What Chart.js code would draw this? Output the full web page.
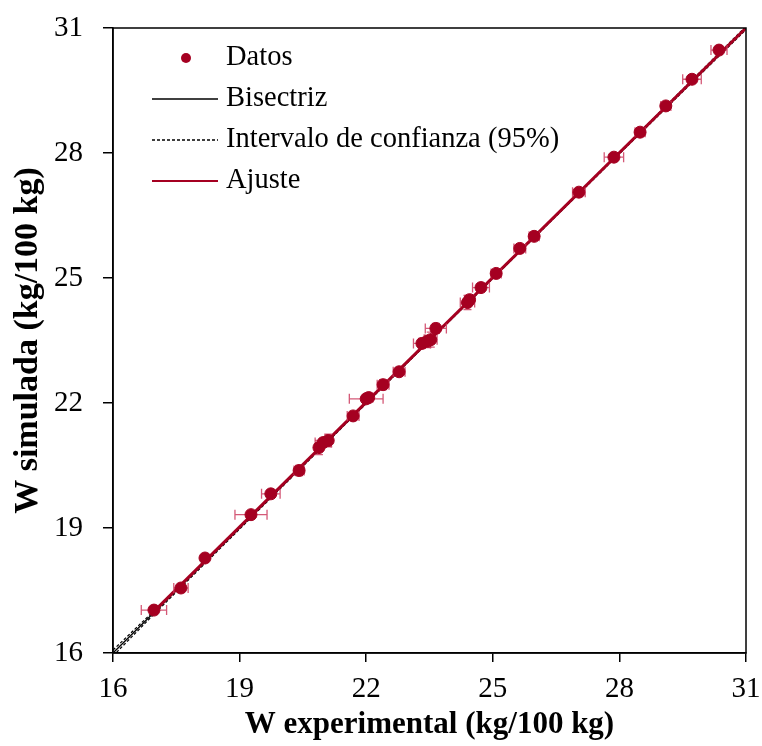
<!DOCTYPE html>
<html>
<head>
<meta charset="utf-8">
<script src="https://cdn.jsdelivr.net/npm/chart.js@4.4.1/dist/chart.umd.min.js"></script>
<style>
  html, body { margin: 0; padding: 0; background: #fff; }
  #wrap { width: 762px; height: 746px; }
</style>
</head>
<body>
<div id="wrap"><canvas id="chart" width="762" height="746"></canvas></div>
<script>
// experimental vs simulated W (kg/100 kg)
const wExp = [16.97, 17.61, 18.18, 19.27, 19.74, 20.41, 20.88, 20.98, 21.10, 21.69, 22.00, 22.06, 22.40, 22.78,
              23.32, 23.45, 23.53, 23.65, 24.40, 24.45, 24.72, 25.08, 25.64, 25.98, 27.04, 27.87, 28.49, 29.10, 29.72, 30.36];
const wSim = [17.03, 17.56, 18.28, 19.32, 19.82, 20.38, 20.93, 21.05, 21.10, 21.69, 22.10, 22.13, 22.44, 22.75,
              23.43, 23.48, 23.52, 23.79, 24.41, 24.48, 24.77, 25.11, 25.71, 26.00, 27.06, 27.90, 28.50, 29.13, 29.77, 30.47];
const errX = [0.30, 0.17, 0.04, 0.38, 0.22, 0.12, 0.06, 0.19, 0.05, 0.14, 0.40, 0.10, 0.14, 0.14,
              0.20, 0.10, 0.15, 0.25, 0.17, 0.10, 0.20, 0.12, 0.14, 0.12, 0.15, 0.23, 0.12, 0.12, 0.22, 0.19];
const errY = [0.05, 0.06, 0.04, 0.05, 0.05, 0.12, 0.17, 0.10, 0.15, 0.08, 0.10, 0.08, 0.12, 0.08,
              0.12, 0.15, 0.18, 0.12, 0.17, 0.10, 0.10, 0.06, 0.08, 0.06, 0.08, 0.06, 0.06, 0.06, 0.08, 0.06];

const bisX = [16, 31];
const bisY = [16, 31];
const ciX = [16, 17, 20, 24, 28, 31];
const ciUpper = [16.07, 17.04, 20.02, 24.01, 28.02, 31.04];
const ciLower = [15.93, 16.96, 19.98, 23.99, 27.98, 30.96];
const fitX = [16.97, 31];
const fitY = [17.0, 31.0];

const axisTicks = [16, 19, 22, 25, 28, 31];
const legendLabels = ['Datos', 'Bisectriz', 'Intervalo de confianza (95%)', 'Ajuste'];

const RED = '#a50021';
const ERR = 'rgba(205, 60, 95, 0.85)';
const FONT = "'Liberation Serif', 'Times New Roman', serif";

const pts = (xs, ys) => xs.map((x, i) => ({ x: x, y: ys[i] }));

const errorBars = {
  id: 'errorBars',
  beforeDatasetDraw(chart, args) {
    if (args.index !== 0) return;
    const ctx = chart.ctx, sx = chart.scales.x, sy = chart.scales.y;
    ctx.save();
    ctx.strokeStyle = ERR;
    ctx.lineWidth = 1.3;
    wExp.forEach((x, i) => {
      const px = sx.getPixelForValue(x), py = sy.getPixelForValue(wSim[i]);
      const x0 = sx.getPixelForValue(x - errX[i]), x1 = sx.getPixelForValue(x + errX[i]);
      const y0 = sy.getPixelForValue(wSim[i] - errY[i]), y1 = sy.getPixelForValue(wSim[i] + errY[i]);
      ctx.beginPath();
      ctx.moveTo(x0, py); ctx.lineTo(x1, py);
      ctx.moveTo(x0, py - 5); ctx.lineTo(x0, py + 5);
      ctx.moveTo(x1, py - 5); ctx.lineTo(x1, py + 5);
      ctx.moveTo(px, y0); ctx.lineTo(px, y1);
      ctx.moveTo(px - 4, y0); ctx.lineTo(px + 4, y0);
      ctx.moveTo(px - 4, y1); ctx.lineTo(px + 4, y1);
      ctx.stroke();
    });
    ctx.restore();
  }
};

const frameAndLegend = {
  id: 'frameAndLegend',
  afterDraw(chart) {
    const ctx = chart.ctx, a = chart.chartArea;
    ctx.save();
    ctx.strokeStyle = '#000';
    ctx.lineWidth = 1.5;
    ctx.strokeRect(a.left, a.top, a.right - a.left, a.bottom - a.top);

    const lx0 = 152, lx1 = 218, tx = 226;
    const rows = [58, 99, 140, 181];
    ctx.font = '28.5px ' + FONT;
    ctx.fillStyle = '#000';
    ctx.textBaseline = 'middle';
    legendLabels.forEach((t, i) => ctx.fillText(t, tx, rows[i]));

    ctx.fillStyle = RED;
    ctx.beginPath();
    ctx.arc(186, rows[0], 5, 0, Math.PI * 2);
    ctx.fill();

    ctx.lineWidth = 1.3;
    ctx.strokeStyle = '#000';
    ctx.beginPath(); ctx.moveTo(lx0, rows[1]); ctx.lineTo(lx1, rows[1]); ctx.stroke();
    ctx.setLineDash([3, 2]);
    ctx.beginPath(); ctx.moveTo(lx0, rows[2]); ctx.lineTo(lx1, rows[2]); ctx.stroke();
    ctx.setLineDash([]);
    ctx.strokeStyle = RED;
    ctx.lineWidth = 2;
    ctx.beginPath(); ctx.moveTo(lx0, rows[3]); ctx.lineTo(lx1, rows[3]); ctx.stroke();
    ctx.restore();
  }
};

new Chart(document.getElementById('chart'), {
  type: 'scatter',
  data: {
    datasets: [
      { label: 'Datos', data: pts(wExp, wSim), backgroundColor: RED, borderColor: RED,
        pointRadius: 6, showLine: false, order: 0 },
      { label: 'Ajuste', data: pts(fitX, fitY), borderColor: RED, borderWidth: 3,
        pointRadius: 0, showLine: true, order: 1 },
      { label: 'Bisectriz', data: pts(bisX, bisY), borderColor: '#000', borderWidth: 1.3,
        pointRadius: 0, showLine: true, order: 2 },
      { label: 'IC sup', data: pts(ciX, ciUpper), borderColor: '#000', borderWidth: 1.2,
        borderDash: [3, 2], pointRadius: 0, showLine: true, order: 3 },
      { label: 'IC inf', data: pts(ciX, ciLower), borderColor: '#000', borderWidth: 1.2,
        borderDash: [3, 2], pointRadius: 0, showLine: true, order: 3 }
    ]
  },
  options: {
    responsive: false,
    animation: false,
    events: [],
    layout: { padding: { left: 0, right: 16, top: 28, bottom: 0 } },
    plugins: { legend: { display: false }, tooltip: { enabled: false } },
    scales: {
      x: {
        type: 'linear', min: 16, max: 31,
        afterBuildTicks: s => { s.ticks = axisTicks.map(v => ({ value: v })); },
        afterFit: s => { s.height = 93; s.paddingLeft = 0; s.paddingRight = 0; },
        grid: { drawOnChartArea: false, drawTicks: true, tickLength: 9, color: '#000', lineWidth: 1.5 },
        border: { color: '#000', width: 1.5 },
        ticks: { color: '#000', padding: 10, maxRotation: 0, font: { family: FONT, size: 29 } },
        title: { display: true, text: 'W experimental (kg/100 kg)', color: '#000', padding: { top: 0, bottom: 2 },
                 font: { family: FONT, size: 31, weight: 'bold' } }
      },
      y: {
        type: 'linear', min: 16, max: 31,
        afterBuildTicks: s => { s.ticks = axisTicks.map(v => ({ value: v })); },
        afterFit: s => { s.width = 113; s.paddingTop = 0; s.paddingBottom = 0; },
        grid: { drawOnChartArea: false, drawTicks: true, tickLength: 10, color: '#000', lineWidth: 1.5 },
        border: { color: '#000', width: 1.5 },
        ticks: { color: '#000', padding: 20, font: { family: FONT, size: 29 } },
        title: { display: true, text: 'W simulada (kg/100 kg)', color: '#000', padding: { top: 8, bottom: 0 },
                 font: { family: FONT, size: 34, weight: 'bold' } }
      }
    }
  },
  plugins: [errorBars, frameAndLegend]
});
</script>
</body>
</html>
